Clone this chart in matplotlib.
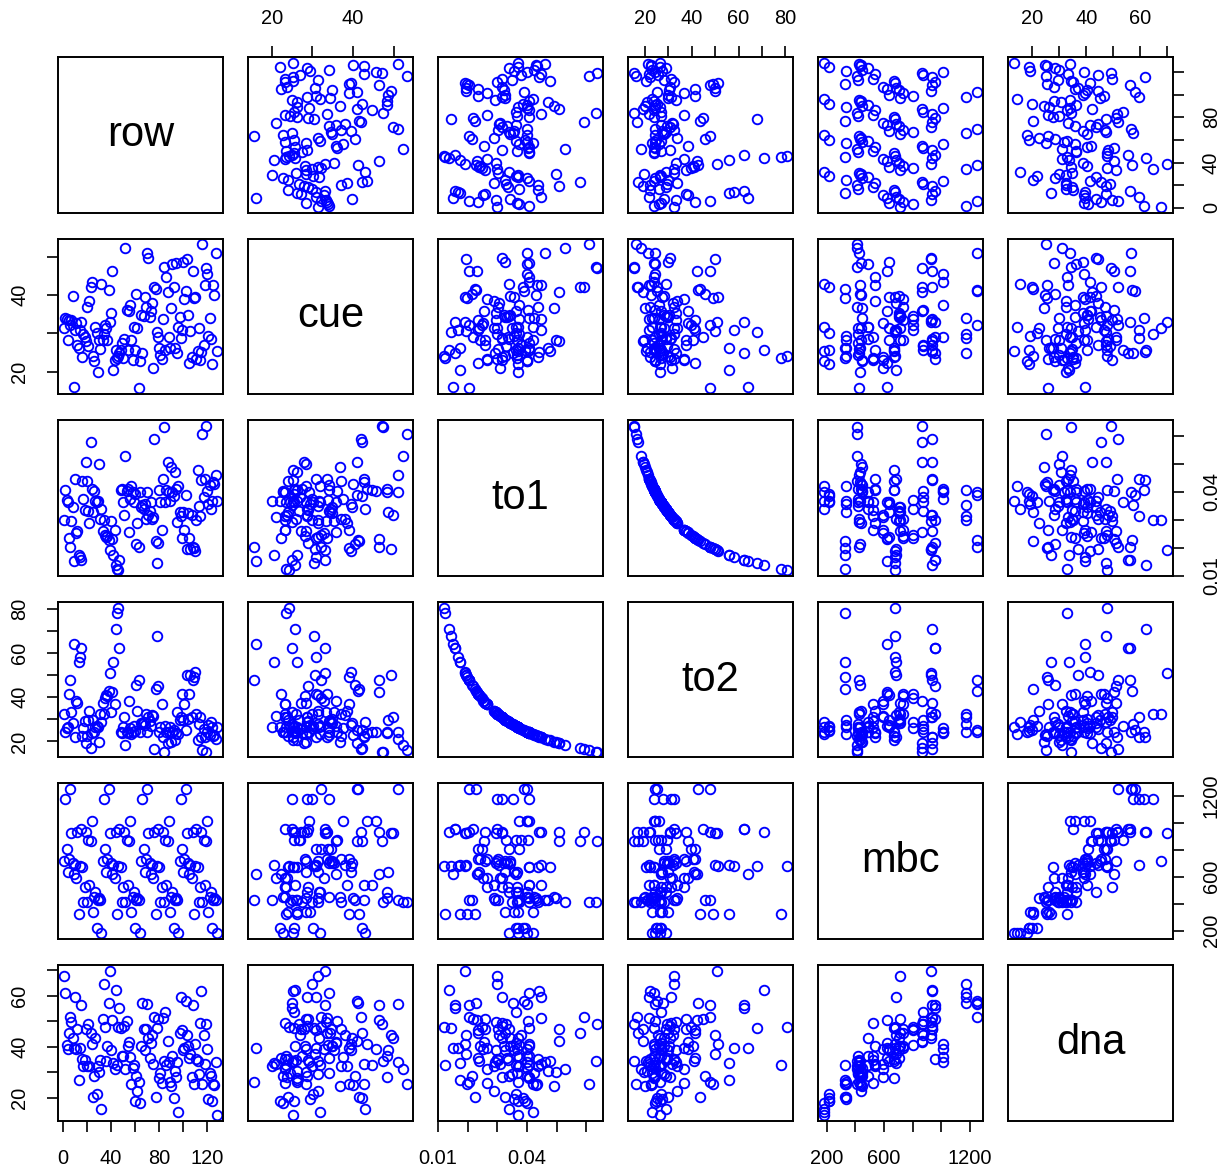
import matplotlib.pyplot as plt
import numpy as np

plt.rcParams['font.family'] = ['Liberation Sans', 'DejaVu Sans']

names = ['row', 'cue', 'to1', 'to2', 'mbc', 'dna']

row = [1, 2, 3, 4, 5, 6, 7, 8, 9, 10, 11, 12, 13, 14, 15, 16,
       17, 18, 19, 20, 21, 22, 23, 24, 25, 26, 27, 28, 29, 30, 31, 32,
       33, 34, 35, 36, 37, 38, 39, 40, 41, 42, 43, 44, 45, 46, 47, 48,
       49, 50, 51, 52, 53, 54, 55, 56, 57, 58, 59, 60, 61, 62, 63, 64,
       65, 66, 67, 68, 69, 70, 71, 72, 73, 74, 75, 76, 77, 78, 79, 80,
       81, 82, 83, 84, 85, 86, 87, 88, 89, 90, 91, 92, 93, 94, 95, 96,
       97, 98, 99, 100, 101, 102, 103, 104, 105, 106, 107, 108, 109, 110, 111, 112,
       113, 114, 115, 116, 117, 118, 119, 120, 121, 122, 123, 124, 125, 126, 127, 128]

cue = [31.4, 34.0, 33.8, 28.4, 33.5, 32.2, 33.4, 39.7, 16.1, 30.9, 32.8, 27.1, 26.2, 30.9, 33.0, 23.9,
       29.9, 29.0, 27.9, 37.0, 26.6, 38.4, 42.1, 43.4, 24.0, 22.8, 31.6, 30.1, 20.0, 28.4, 25.9, 42.8,
       28.4, 29.9, 32.2, 31.4, 28.2, 41.3, 33.1, 35.2, 46.3, 20.6, 23.2, 25.8, 23.6, 24.2, 24.9, 25.6,
       27.5, 23.6, 28.6, 52.3, 36.1, 25.8, 35.9, 37.4, 28.4, 23.2, 31.8, 25.6, 40.4, 31.4, 15.7, 22.9,
       34.8, 24.9, 34.6, 39.4, 37.0, 50.9, 49.7, 34.2, 35.9, 38.0, 21.0, 42.0, 41.5, 30.5, 29.0, 26.2,
       24.5, 23.4, 33.7, 47.3, 25.6, 44.7, 40.9, 29.2, 26.2, 36.7, 48.2, 42.1, 26.2, 48.4, 24.9, 31.8,
       34.4, 28.8, 30.8, 48.6, 38.9, 41.0, 49.3, 34.7, 22.3, 30.7, 23.8, 46.3, 39.1, 39.6, 23.4, 25.3,
       31.3, 23.2, 25.2, 53.2, 27.0, 42.6, 47.1, 45.6, 29.4, 34.0, 28.6, 22.1, 42.6, 40.0, 51.0, 25.3]

to1 = [0.0299, 0.0405, 0.0372, 0.0365, 0.0235, 0.0204, 0.0295, 0.0344,
       0.0152, 0.0447, 0.0253, 0.0259, 0.0174, 0.0168, 0.0156, 0.0437,
       0.0374, 0.0335, 0.0508, 0.0437, 0.0330, 0.0289, 0.0578, 0.0408,
       0.0326, 0.0401, 0.0368, 0.0362, 0.0368, 0.0498, 0.0302, 0.0338,
       0.0259, 0.0299, 0.0247, 0.0238, 0.0241, 0.0229, 0.0192, 0.0295,
       0.0231, 0.0174, 0.0265, 0.0138, 0.0125, 0.0121, 0.0156, 0.0405,
       0.0408, 0.0365, 0.0316, 0.0528, 0.0402, 0.0408, 0.0255, 0.0374,
       0.0420, 0.0399, 0.0362, 0.0393, 0.0214, 0.0289, 0.0204, 0.0399,
       0.0344, 0.0352, 0.0338, 0.0356, 0.0302, 0.0399, 0.0316, 0.0332,
       0.0362, 0.0304, 0.0308, 0.0590, 0.0223, 0.0144, 0.0217, 0.0405,
       0.0365, 0.0265, 0.0447, 0.0632, 0.0362, 0.0405, 0.0508, 0.0399,
       0.0368, 0.0490, 0.0399, 0.0386, 0.0471, 0.0408, 0.0293, 0.0420,
       0.0326, 0.0314, 0.0235, 0.0326, 0.0265, 0.0389, 0.0195, 0.0323,
       0.0235, 0.0195, 0.0316, 0.0204, 0.0198, 0.0190, 0.0300, 0.0478,
       0.0348, 0.0314, 0.0441, 0.0607, 0.0380, 0.0447, 0.0635, 0.0401,
       0.0356, 0.0423, 0.0338, 0.0368, 0.0435, 0.0429, 0.0459, 0.0368]

to2 = [32.6, 24.1, 26.2, 26.7, 41.5, 47.8, 33.1, 28.3, 64.1, 21.8, 38.5, 37.6, 56.0, 58.0, 62.5, 22.3,
       26.1, 29.1, 19.2, 22.3, 29.5, 33.7, 16.9, 23.9, 29.9, 24.3, 26.5, 26.9, 26.5, 19.6, 32.3, 28.8,
       37.6, 32.6, 39.5, 41.0, 40.5, 42.6, 50.8, 33.1, 42.2, 56.0, 36.8, 70.7, 78.0, 80.6, 62.5, 24.1,
       23.9, 26.7, 30.9, 18.5, 24.3, 23.9, 38.2, 26.1, 23.2, 24.4, 26.9, 24.8, 45.6, 33.7, 47.8, 24.4,
       28.3, 27.7, 28.8, 27.4, 32.3, 24.4, 30.9, 29.4, 26.9, 32.1, 31.7, 16.5, 43.7, 67.7, 44.9, 24.1,
       26.7, 36.8, 21.8, 15.4, 26.9, 24.1, 19.2, 24.4, 26.5, 19.9, 24.4, 25.3, 20.7, 23.9, 33.3, 23.2,
       29.9, 31.1, 41.5, 29.9, 36.8, 25.1, 50.0, 30.2, 41.5, 50.0, 30.9, 47.8, 49.2, 51.3, 32.5, 20.4,
       28.0, 31.1, 22.1, 16.1, 25.7, 21.8, 15.4, 24.3, 27.4, 23.0, 28.8, 26.5, 22.4, 22.7, 21.2, 26.5]

mbc = [714, 1174, 803, 634, 733, 1248, 927, 704, 622, 684, 592, 932, 325, 679, 956, 672,
       416, 523, 932, 411, 870, 535, 862, 1013, 337, 449, 486, 218, 431, 441, 424, 182,
       714, 1174, 803, 634, 733, 1248, 927, 704, 622, 684, 592, 932, 325, 679, 956, 672,
       416, 523, 932, 411, 870, 535, 862, 1013, 337, 449, 486, 218, 431, 441, 424, 182,
       714, 1174, 803, 634, 733, 1248, 927, 704, 622, 684, 592, 932, 325, 679, 956, 672,
       416, 523, 932, 411, 870, 535, 862, 1013, 337, 449, 486, 218, 431, 441, 424, 182,
       714, 1174, 803, 634, 733, 1248, 927, 704, 622, 684, 592, 932, 325, 679, 956, 672,
       416, 523, 932, 411, 870, 535, 862, 1013, 337, 449, 486, 218, 431, 441, 424, 182]

dna = [67.7, 61.2, 40.5, 39.2, 45.5, 51.8, 49.6, 43.5, 39.5, 59.5, 39.2, 47.1, 26.8, 39.5, 56.3, 35.0,
       32.4, 34.8, 47.1, 32.4, 48.8, 32.4, 45.5, 41.2, 20.3, 28.5, 43.5, 21.6, 32.4, 30.0, 34.8, 15.6,
       50.9, 64.8, 47.6, 34.5, 40.3, 57.0, 69.8, 38.6, 50.3, 33.7, 31.1, 62.1, 33.0, 47.7, 55.3, 47.5,
       36.3, 36.3, 48.1, 31.1, 50.1, 40.3, 41.8, 36.0, 25.2, 31.8, 33.0, 18.7, 28.5, 22.6, 26.0, 18.0,
       40.3, 57.3, 47.1, 38.8, 46.8, 56.6, 43.5, 35.7, 41.4, 44.4, 33.1, 51.6, 20.3, 47.3, 50.9, 27.6,
       29.8, 25.9, 51.2, 34.2, 53.6, 32.9, 42.2, 33.9, 26.1, 24.4, 36.2, 20.0, 30.5, 28.0, 34.0, 14.5,
       45.2, 59.5, 46.4, 38.6, 39.5, 57.9, 44.4, 40.3, 35.7, 37.0, 28.0, 56.3, 25.5, 41.2, 35.0, 34.5,
       29.4, 49.4, 61.7, 25.2, 44.4, 33.3, 49.0, 39.0, 19.3, 29.8, 28.5, 18.7, 25.5, 24.8, 33.9, 13.3]

cols = [row, cue, to1, to2, mbc, dna]

# tick positions and the subset that gets a printed label
tick_pos = [[0, 20, 40, 60, 80, 100, 120],
            [20, 30, 40, 50],
            [0.01, 0.02, 0.03, 0.04, 0.05, 0.06],
            [20, 30, 40, 50, 60, 70, 80],
            [200, 400, 600, 800, 1000, 1200],
            [20, 30, 40, 50, 60, 70]]
tick_lab = [['0', '', '40', '', '80', '', '120'],
            ['20', '', '40', ''],
            ['0.01', '', '', '0.04', '', ''],
            ['20', '', '40', '', '60', '', '80'],
            ['200', '', '600', '', '', '1200'],
            ['20', '', '40', '', '60', '']]
right_lab_row = ['0', '', '40', '', '80', '', '']

W, H = 1226, 1174
fig = plt.figure(figsize=(W / 100, H / 100), dpi=100)

n = len(names)
for i in range(n):
    for j in range(n):
        left = (58 + 190 * j) / W
        top = 57 + 181.6 * i
        ax = fig.add_axes([left, 1 - (top + 155.5) / H, 165 / W, 155.5 / H])
        for s in ax.spines.values():
            s.set_linewidth(1.4)
        xs, ys = np.array(cols[j]), np.array(cols[i])
        xpad = 0.04 * (xs.max() - xs.min())
        ypad = 0.04 * (ys.max() - ys.min())
        ax.set_xlim(xs.min() - xpad, xs.max() + xpad)
        ax.set_ylim(ys.min() - ypad, ys.max() + ypad)
        if i == j:
            ax.text(0.5, 0.5, names[i], transform=ax.transAxes,
                    ha='center', va='center', fontsize=30)
        else:
            ax.plot(xs, ys, 'o', ms=6.9, mfc='none', mec='#0000ff', mew=1.35)

        ax.tick_params(length=7.8, width=1.2, labelsize=14.4, pad=13,
                       bottom=False, top=False, left=False, right=False,
                       labelbottom=False, labeltop=False,
                       labelleft=False, labelright=False)
        ax.set_xticks(tick_pos[j])
        ax.set_yticks(tick_pos[i])

        if i == 0 and j % 2 == 1:
            ax.xaxis.set_ticks_position('top')
            ax.tick_params(top=True, labeltop=True)
            ax.set_xticklabels(tick_lab[j])
        if i == n - 1 and j % 2 == 0:
            ax.tick_params(bottom=True, labelbottom=True)
            ax.set_xticklabels(tick_lab[j])
        if j == 0 and i % 2 == 1:
            ax.tick_params(left=True, labelleft=True)
            ax.set_yticklabels(tick_lab[i], rotation=90, va='center')
        if j == n - 1 and i % 2 == 0:
            ax.yaxis.set_ticks_position('right')
            ax.tick_params(right=True, labelright=True)
            labs = right_lab_row if i == 0 else tick_lab[i]
            ax.set_yticklabels(labs, rotation=90, va='center')

fig.savefig('out.png', dpi=100)
